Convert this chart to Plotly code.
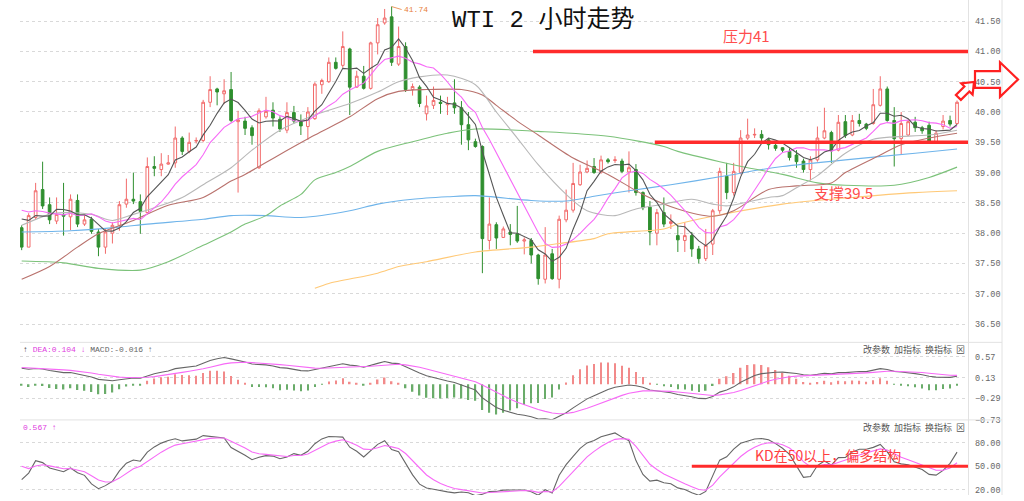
import plotly.graph_objects as go
import pandas as pd
import numpy as np

# ---------------- data ----------------
opens = [38.09,37.77,38.26,38.72,38.47,38.20,38.31,38.27,38.54,38.15,
         38.23,38.02,37.77,38.00,38.13,38.48,38.56,38.52,38.34,39.10,
         39.05,39.14,39.16,39.57,39.35,39.52,39.53,40.16,40.38,40.30,
         40.37,39.84,39.85,39.74,39.08,39.92,40.03,39.88,39.70,39.99,
         39.84,39.76,39.89,40.45,40.50,40.82,40.77,41.04,40.41,40.59,
         40.39,41.14,41.47,41.57,40.79,41.08,40.37,40.41,39.97,40.11,
         40.16,40.12,40.15,40.07,39.79,39.51,39.43,37.88,38.14,37.93,
         38.02,37.99,37.87,37.88,37.64,37.24,37.66,37.24,38.22,38.38,
         38.80,39.01,39.10,39.01,39.21,39.20,39.19,39.01,39.05,38.67,
         38.43,38.00,38.34,38.16,37.96,37.88,37.96,37.74,37.58,37.82,
         38.37,38.94,38.67,39.00,39.57,39.62,39.63,39.54,39.45,39.41,
         39.35,39.29,39.19,39.05,39.21,39.57,39.66,39.37,39.84,39.62,
         39.86,39.80,39.81,40.11,40.38,39.86,39.56,39.62,39.83,39.74,
         39.78,39.51,39.76,39.86,39.81]
highs = [38.13,38.33,38.83,39.18,38.59,38.59,38.83,38.64,38.64,38.30,
         38.27,38.07,38.07,38.18,38.53,38.90,39.00,38.64,39.25,39.27,
         39.32,39.29,39.76,39.60,39.66,39.58,40.20,40.59,40.40,40.54,
         40.66,40.02,39.92,39.78,40.06,40.25,40.16,39.93,40.16,40.10,
         39.96,40.08,40.49,40.55,40.90,40.90,41.33,41.06,40.68,40.76,
         41.16,41.55,41.70,41.74,41.41,41.15,40.47,40.44,40.27,40.42,
         40.27,40.25,40.54,40.18,40.00,39.56,39.45,38.59,38.18,38.11,
         38.15,38.45,37.93,37.92,37.66,38.10,37.74,38.29,38.72,39.16,
         39.13,39.20,39.24,39.28,39.24,39.27,39.23,39.35,39.14,38.69,
         38.53,38.40,38.59,38.31,38.13,38.18,38.02,37.79,38.07,38.40,
         39.08,39.16,39.16,39.70,39.89,39.73,39.70,39.57,39.48,39.42,
         39.40,39.37,39.23,39.27,39.76,40.07,39.69,39.95,39.95,39.95,
         39.97,39.82,40.38,40.59,40.42,40.08,40.00,39.88,39.92,39.77,
         39.84,39.70,39.95,39.94,40.19]
lows = [37.72,37.77,38.23,38.40,38.15,38.15,37.96,38.05,38.10,38.12,
        37.99,37.62,37.66,37.83,38.04,38.42,38.48,37.99,38.33,38.94,
        38.94,39.13,39.08,39.29,39.32,39.48,39.50,40.08,40.11,40.13,
        39.83,38.67,39.62,39.46,39.06,39.89,39.76,39.67,39.65,39.81,
        39.62,39.54,39.87,40.30,40.48,40.70,40.73,39.95,40.40,40.37,
        40.37,40.95,41.44,40.76,40.76,40.33,40.27,40.08,39.86,40.05,
        39.97,39.95,39.97,39.46,39.37,39.41,37.34,37.73,37.74,37.92,
        37.80,37.84,37.65,37.50,37.15,37.17,37.23,37.09,38.18,38.34,
        38.78,38.99,38.98,38.98,39.15,39.16,38.99,38.67,38.62,38.38,
        37.80,37.80,38.10,38.07,37.69,37.69,37.61,37.50,37.54,37.64,
        38.32,38.56,38.62,38.97,39.54,39.57,39.51,39.38,39.36,39.33,
        39.20,39.08,39.00,38.87,39.18,39.55,39.16,39.35,39.57,39.60,
        39.76,39.70,39.79,40.09,39.84,39.10,39.29,39.60,39.67,39.64,
        39.48,39.48,39.71,39.76,39.79]
closes = [37.77,38.29,38.70,38.45,38.22,38.31,38.28,38.56,38.15,38.22,
          38.03,37.77,38.02,38.13,38.47,38.56,38.53,38.36,39.10,39.07,
          39.14,39.16,39.57,39.35,39.50,39.53,40.16,40.37,40.33,40.35,
          39.86,39.87,39.73,39.61,40.02,40.01,39.90,39.72,39.99,39.85,
          39.77,40.00,40.46,40.52,40.82,40.72,41.08,40.41,40.59,40.39,
          41.14,41.44,41.55,40.82,41.08,40.37,40.42,40.14,40.10,40.19,
          40.14,40.14,40.07,39.79,39.54,39.43,37.91,38.15,37.92,38.07,
          37.98,37.87,37.89,37.64,37.25,37.64,37.25,38.23,38.38,38.82,
          39.01,39.07,39.00,39.21,39.18,39.21,39.02,39.08,38.67,38.42,
          38.02,38.34,38.15,38.19,37.89,37.96,37.74,37.58,37.80,38.37,
          39.02,38.67,39.02,39.57,39.62,39.63,39.57,39.46,39.40,39.37,
          39.25,39.18,39.05,39.21,39.57,39.69,39.36,39.83,39.61,39.86,
          39.81,39.73,40.12,40.38,39.86,39.56,39.81,39.84,39.74,39.69,
          39.51,39.65,39.85,39.80,40.16]

# bars before the visible window (estimated, used only for indicator warm-up)
pre_closes = [38.60, 38.50, 38.55, 38.50, 38.48, 38.40, 38.30, 38.50, 38.20]
pre_highs = [38.75, 38.70, 38.62, 38.60, 38.55, 38.62, 38.60, 38.40]
pre_lows = [38.35, 38.30, 38.28, 38.20, 38.15, 38.10, 38.05, 37.95]

# longer moving averages (bar index, price)
ma20_idx = [0, 4, 6, 10, 13, 16, 19, 23, 26, 30, 33, 37, 42, 47, 51, 54, 57, 61, 65, 68, 71, 74,
            78, 81, 85, 88, 92, 96, 99, 101, 107, 109, 111, 114, 118, 122, 125, 130, 134]
ma20_val = [38.13, 38.31, 38.34, 38.31, 38.21, 38.31, 38.42, 38.59, 38.80, 39.08, 39.37, 39.70,
            39.95, 40.14, 40.33, 40.50, 40.58, 40.61, 40.45, 40.00, 39.57, 39.13, 38.64, 38.37,
            38.29, 38.40, 38.48, 38.56, 38.48, 38.45, 38.59, 38.62, 38.75, 38.95, 39.32, 39.55,
            39.59, 39.62, 39.70]
ma30_idx = [0, 4, 8, 11, 16, 21, 26, 30, 32, 37, 42, 47, 51, 54, 58, 63, 66, 68, 71, 74, 79, 84,
            89, 94, 99, 102, 107, 111, 116, 118, 123, 126, 130, 134]
ma30_val = [37.24, 37.45, 37.77, 37.99, 38.21, 38.46, 38.59, 38.86, 38.97, 39.30, 39.62, 39.92,
            40.22, 40.34, 40.37, 40.37, 40.28, 40.11, 39.85, 39.62, 39.24, 38.97, 38.64, 38.40,
            38.28, 38.37, 38.72, 38.78, 38.83, 39.00, 39.29, 39.46, 39.57, 39.65]
ma60_idx = [0, 6, 11, 17, 21, 26, 30, 32, 35, 37, 40, 42, 45, 47, 51, 56, 61, 65, 74, 84, 92, 94,
            100, 104, 109, 114, 118, 125, 130, 134]
ma60_val = [37.54, 37.51, 37.42, 37.39, 37.53, 37.80, 38.02, 38.15, 38.29, 38.45, 38.64, 38.88,
            39.00, 39.10, 39.35, 39.51, 39.65, 39.72, 39.68, 39.60, 39.43, 39.35, 39.18, 39.08,
            38.97, 38.83, 38.79, 38.79, 38.92, 39.09]
ma120_idx = [0, 7, 14, 18, 26, 30, 35, 40, 47, 51, 56, 61, 65, 73, 78, 82, 87, 93, 100, 106, 109,
             118, 128, 134]
ma120_val = [38.02, 38.04, 38.10, 38.15, 38.23, 38.29, 38.29, 38.26, 38.37, 38.48, 38.56, 38.60,
             38.62, 38.54, 38.53, 38.61, 38.70, 38.80, 38.93, 39.05, 39.10, 39.21, 39.32, 39.39]
ma250_idx = [42, 44, 51, 54, 58, 65, 73, 77, 82, 84, 92, 94, 99, 109, 119, 128, 134]
ma250_val = [37.09, 37.17, 37.34, 37.45, 37.53, 37.69, 37.77, 37.83, 37.91, 37.99, 38.07, 38.15,
             38.28, 38.48, 38.59, 38.67, 38.70]

# indicator state just before the first visible bar
ema12_seed, ema26_seed, dea_seed = 38.30, 37.90, 0.35
k_seed, d_seed = 47.0, 58.5

price_ticks = [36.5, 37.0, 37.5, 38.0, 38.5, 39.0, 39.5, 40.0, 40.5, 41.0, 41.5]
macd_ticks = [0.57, 0.13, -0.29, -0.73]
kd_ticks = [20, 50, 80]
resistance, support, kd_level = 41.0, 39.5, 50
high_mark = 41.74

# ---------------- indicators ----------------
n = len(closes)
idx = list(range(n))
allc = pd.Series(pre_closes + closes)
ma5 = allc.rolling(5).mean().iloc[len(pre_closes):].to_numpy()
ma10 = allc.rolling(10).mean().iloc[len(pre_closes):].to_numpy()

e12, e26, dea = ema12_seed, ema26_seed, dea_seed
difs, deas = [], []
for c in closes:
    e12 = e12 * 11 / 13 + c * 2 / 13
    e26 = e26 * 25 / 27 + c * 2 / 27
    dif = e12 - e26
    dea = dea * 0.8 + dif * 0.2
    difs.append(dif)
    deas.append(dea)
hist = [2 * (a - b) for a, b in zip(difs, deas)]

hh = pd.Series(pre_highs + highs).rolling(9, min_periods=1).max().iloc[len(pre_highs):].to_numpy()
ll = pd.Series(pre_lows + lows).rolling(9, min_periods=1).min().iloc[len(pre_lows):].to_numpy()
k, d = k_seed, d_seed
ks, ds = [], []
for c, h, l in zip(closes, hh, ll):
    rsv = (c - l) / (h - l) * 100 if h > l else 50
    k = k * 2 / 3 + rsv / 3
    d = d * 2 / 3 + k / 3
    ks.append(k)
    ds.append(d)

# ---------------- figure ----------------
W, H = 1024, 501
L, R = 20, 968


def pxx(x):
    return (x - L) / (R - L)


def pyy(y):
    return 1 - y / H


RED = "#f26b6b"
GREEN = "#2f8f2f"

fig = go.Figure()
fig.add_trace(go.Candlestick(
    x=idx, open=opens, high=highs, low=lows, close=closes,
    increasing=dict(line=dict(color=RED, width=1), fillcolor="white"),
    decreasing=dict(line=dict(color=GREEN, width=1), fillcolor=GREEN),
    whiskerwidth=0, xaxis="x", yaxis="y", showlegend=False, hoverinfo="skip"))

for xs, ys, col, shp in [
    (ma250_idx, ma250_val, "#ffc977", "spline"),
    (ma120_idx, ma120_val, "#6fb4ea", "spline"),
    (ma60_idx, ma60_val, "#7cc27a", "spline"),
    (ma30_idx, ma30_val, "#b9726d", "spline"),
    (ma20_idx, ma20_val, "#b8b8b8", "spline"),
    (idx, ma10, "#f76af7", "linear"),
    (idx, ma5, "#555555", "linear"),
]:
    fig.add_trace(go.Scatter(x=xs, y=ys, mode="lines",
                             line=dict(color=col, width=1.1, shape=shp, smoothing=0.8),
                             xaxis="x", yaxis="y", showlegend=False, hoverinfo="skip"))

fig.add_trace(go.Bar(x=idx, y=hist, width=0.22,
                     marker=dict(color=["#f28a8a" if v >= 0 else "#6aac6a" for v in hist],
                                 line=dict(width=0)),
                     xaxis="x2", yaxis="y2", showlegend=False, hoverinfo="skip"))
fig.add_trace(go.Scatter(x=idx, y=difs, mode="lines", line=dict(color="#666666", width=1.1),
                         xaxis="x2", yaxis="y2", showlegend=False, hoverinfo="skip"))
fig.add_trace(go.Scatter(x=idx, y=deas, mode="lines", line=dict(color="#f76af7", width=1.1),
                         xaxis="x2", yaxis="y2", showlegend=False, hoverinfo="skip"))
fig.add_trace(go.Scatter(x=idx, y=ks, mode="lines", line=dict(color="#666666", width=1.1),
                         xaxis="x3", yaxis="y3", showlegend=False, hoverinfo="skip"))
fig.add_trace(go.Scatter(x=idx, y=ds, mode="lines", line=dict(color="#f76af7", width=1.1),
                         xaxis="x3", yaxis="y3", showlegend=False, hoverinfo="skip"))

xr = [-0.24, 135.57]
xax = dict(range=xr, visible=False, showgrid=False, zeroline=False, fixedrange=True)
yax_common = dict(side="right", showgrid=True, gridcolor="#d9d9d9", griddash="dot", gridwidth=1,
                  zeroline=False, showline=False, ticks="",
                  tickfont=dict(family="Liberation Mono", size=8.5, color="#666666"),
                  ticklabelstandoff=6, fixedrange=True)

fig.update_layout(
    width=W, height=H, margin=dict(l=L, r=W - R, t=0, b=0),
    paper_bgcolor="white", plot_bgcolor="white", boxgap=0.45,
    xaxis=dict(xax, anchor="y", rangeslider=dict(visible=False)),
    xaxis2=dict(xax, anchor="y2", matches="x"),
    xaxis3=dict(xax, anchor="y3", matches="x"),
    yaxis=dict(yax_common, domain=[pyy(345), 1], range=[36.223, 41.848],
               tickvals=price_ticks, ticktext=[f"{v:.2f}" for v in price_ticks], anchor="x"),
    yaxis2=dict(yax_common, domain=[pyy(425), pyy(347)], range=[-0.738, 0.853],
                tickvals=macd_ticks, ticktext=[f"{v:.2f}".replace("-", "−") for v in macd_ticks],
                anchor="x2"),
    yaxis3=dict(yax_common, domain=[0, pyy(425)], range=[13.5, 108.9],
                tickvals=kd_ticks, ticktext=[f"{v:.2f}" for v in kd_ticks], anchor="x3"),
)

shapes = []
# panel frame lines
for yy in [346.5, 425]:
    shapes.append(dict(type="line", xref="paper", yref="paper", x0=0, x1=pxx(1002),
                       y0=pyy(yy), y1=pyy(yy), line=dict(color="#e2e2e2", width=1)))
for xx in [968.5, 1002]:
    shapes.append(dict(type="line", xref="paper", yref="paper", x0=pxx(xx), x1=pxx(xx),
                       y0=0, y1=1, line=dict(color="#e2e2e2", width=1)))
# level lines
shapes.append(dict(type="line", xref="x", yref="y", x0=73.25, x1=xr[1], y0=resistance, y1=resistance,
                   line=dict(color="#ff2b2b", width=3.5)))
shapes.append(dict(type="line", xref="x", yref="y", x0=90.7, x1=xr[1], y0=support, y1=support,
                   line=dict(color="#ff2b2b", width=3.5)))
shapes.append(dict(type="line", xref="x3", yref="y3", x0=96.0, x1=xr[1], y0=kd_level, y1=kd_level,
                   line=dict(color="#ff2b2b", width=3)))


def poly(points):
    return "M " + " L ".join(f"{pxx(x):.5f},{pyy(y):.5f}" for x, y in points) + " Z"


right_arrow = [(975, 72), (1000, 72), (1000, 63), (1018, 80.5), (1000, 98), (1000, 89), (975, 89)]
diag_arrow = [(974, 83), (972.6, 95.8), (969.4, 92.6), (960.9, 101.1), (955.9, 96.1),
              (964.4, 87.6), (961.2, 84.4)]
for pts in [right_arrow, diag_arrow]:
    shapes.append(dict(type="path", xref="paper", yref="paper", path=poly(pts),
                       line=dict(color="#ff2020", width=2.2), fillcolor="rgba(0,0,0,0)"))
fig.update_layout(shapes=shapes)

ann = []
ann.append(dict(xref="paper", yref="paper", x=pxx(543), y=pyy(20), xanchor="center", yanchor="middle",
                text="WTI 2 小时走势", showarrow=False,
                font=dict(family="Liberation Mono, Noto Sans CJK SC", size=24, color="#111111")))
ann.append(dict(xref="x", yref="y", x=103.8, y=41.26, text="压力41", showarrow=False,
                xanchor="center", yanchor="middle",
                font=dict(family="Noto Sans CJK SC", size=15, color="#ff4d4d")))
ann.append(dict(xref="x", yref="y", x=117.7, y=38.67, text="支撑39.5", showarrow=False,
                xanchor="center", yanchor="middle",
                font=dict(family="Noto Sans CJK SC", size=15, color="#ff4d4d")))
ann.append(dict(xref="x3", yref="y3", x=115.5, y=64.5, text="KD在50以上，偏多结构", showarrow=False,
                xanchor="center", yanchor="middle",
                font=dict(family="Noto Sans CJK SC", size=14, color="#ff4040")))
ann.append(dict(xref="x", yref="y", x=53, y=high_mark, text=f"{high_mark:.2f}", showarrow=True,
                arrowhead=0, arrowwidth=0.8, arrowcolor="#e8803a", ax=10, ay=3, xanchor="left",
                font=dict(family="Liberation Mono", size=8, color="#e8803a")))
ann.append(dict(xref="paper", yref="paper", x=pxx(21), y=pyy(354), xanchor="left", yanchor="middle",
                text="<span style='color:#333'>↑</span> <span style='color:#e040e0'>DEA:0.104 ↓</span>"
                     " <span style='color:#666'>MACD:-0.016 ↑</span>",
                showarrow=False, font=dict(family="Liberation Mono", size=8)))
ann.append(dict(xref="paper", yref="paper", x=pxx(21), y=pyy(433), xanchor="left", yanchor="middle",
                text="0.567 ↑", showarrow=False,
                font=dict(family="Liberation Mono", size=8, color="#e040e0")))
for yy in [354, 433]:
    ann.append(dict(xref="paper", yref="paper", x=pxx(967), y=pyy(yy), xanchor="right",
                    yanchor="middle", text="改参数  加指标  换指标  ⊠", showarrow=False,
                    font=dict(family="Noto Sans CJK SC", size=9, color="#555555")))
fig.update_layout(annotations=ann)

# the page's default body margin would push the 1024x501 figure off the window
fig.write_html("out.html", config={"displayModeBar": False},
               post_script="document.body.style.margin='0';")
